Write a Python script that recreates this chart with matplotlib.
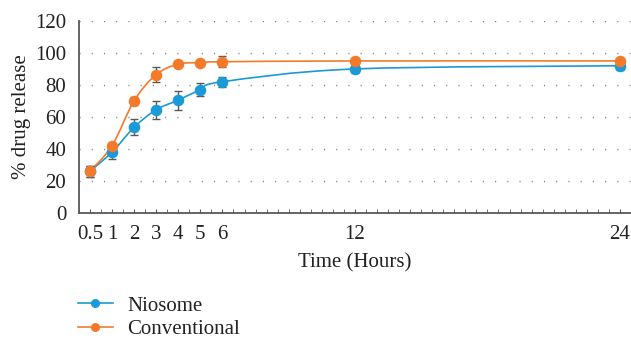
import matplotlib
matplotlib.use("Agg")
import matplotlib.pyplot as plt
from matplotlib.path import Path
from matplotlib.patches import PathPatch
from matplotlib.lines import Line2D
import numpy as np

# ---- data ----
time_labels = ["0.5", "1", "2", "3", "4", "5", "6", "12", "24"]
time_pos = [0, 1, 2, 3, 4, 5, 6, 12, 24]  # axis position of each time label
niosome = [26, 38, 53.5, 64.5, 70.5, 77, 82, 90, 92]
niosome_err = [3.5, 4.5, 5, 5.5, 6, 4, 3, 2.5, 2.5]
conventional = [26, 42, 70, 86.5, 93, 94, 94.5, 95, 95]
conventional_err = [3.5, 1.5, 2.5, 4.5, 1.5, 1.5, 3.5, 1.5, 1.5]
series_names = ["Niosome", "Conventional"]

BLUE = "#1a9ad7"
ORANGE = "#f47a2a"
GRAY = "#595959"
TXT = "#222222"
FS = 15

plt.rcParams["font.family"] = ["Liberation Serif", "DejaVu Serif"]

fig = plt.figure(figsize=(6.31, 3.38), dpi=100)
ax = fig.add_axes([0.125, 0.370, 0.875, 0.568])


def smooth_path(xs, ys):
    pts = np.column_stack([xs, ys]).astype(float)
    n = len(pts)
    verts = [pts[0]]
    codes = [Path.MOVETO]
    for i in range(n - 1):
        p0 = pts[i - 1] if i > 0 else pts[i]
        p1 = pts[i]
        p2 = pts[i + 1]
        p3 = pts[i + 2] if i + 2 < n else pts[i + 1]
        c1 = p1 + (p2 - p0) / 6.0
        c2 = p2 - (p3 - p1) / 6.0
        verts += [c1, c2, p2]
        codes += [Path.CURVE4] * 3
    return Path(verts, codes)


for vals, errs, col in [(niosome, niosome_err, BLUE), (conventional, conventional_err, ORANGE)]:
    ax.add_patch(PathPatch(smooth_path(time_pos, vals), fill=False, edgecolor=col,
                           lw=1.2, zorder=3))
    ax.errorbar(time_pos, vals, yerr=errs, fmt="none", ecolor=GRAY, elinewidth=1.0,
                capsize=2.8, capthick=1.0, zorder=4)
    ax.plot(time_pos, vals, "o", color=col, ms=7.3, zorder=5, mec=col)

ax.set_xlim(-0.5, 24.5)
ax.set_ylim(0, 120)
ax.set_yticks(range(0, 121, 20))
ax.set_xticks(time_pos)
ax.set_xticklabels(time_labels)
ax.set_xticks(np.arange(-0.5, 24.51, 0.5), minor=True)

ax.grid(axis="y", color="#7f7f7f", linestyle=(0, (0.8, 8)), lw=1.0)
ax.set_axisbelow(True)

for s in ["top", "right"]:
    ax.spines[s].set_visible(False)
for s in ["left", "bottom"]:
    ax.spines[s].set_color(GRAY)
    ax.spines[s].set_linewidth(1.3)

ax.tick_params(axis="x", which="major", direction="in", length=3, color=GRAY,
               labelsize=FS, pad=9, labelcolor=TXT)
ax.tick_params(axis="x", which="minor", direction="in", length=3, color=GRAY)
ax.tick_params(axis="y", length=0, labelsize=FS, pad=9, labelcolor=TXT)

ax.set_xlabel("Time (Hours)", fontsize=FS, color=TXT, labelpad=6)
ax.set_ylabel("% drug release", fontsize=FS, color=TXT, labelpad=3)

handles = [Line2D([], [], color=BLUE, marker="o", ms=5.5, lw=1.2),
           Line2D([], [], color=ORANGE, marker="o", ms=5.5, lw=1.2)]
fig.legend(handles, series_names, loc="upper left", bbox_to_anchor=(0.123, 0.124),
           frameon=False, fontsize=FS, handlelength=1.7, handletextpad=0.7,
           labelspacing=0.2, borderaxespad=0, borderpad=0, labelcolor=TXT)

fig.savefig("out.png", dpi=100)
